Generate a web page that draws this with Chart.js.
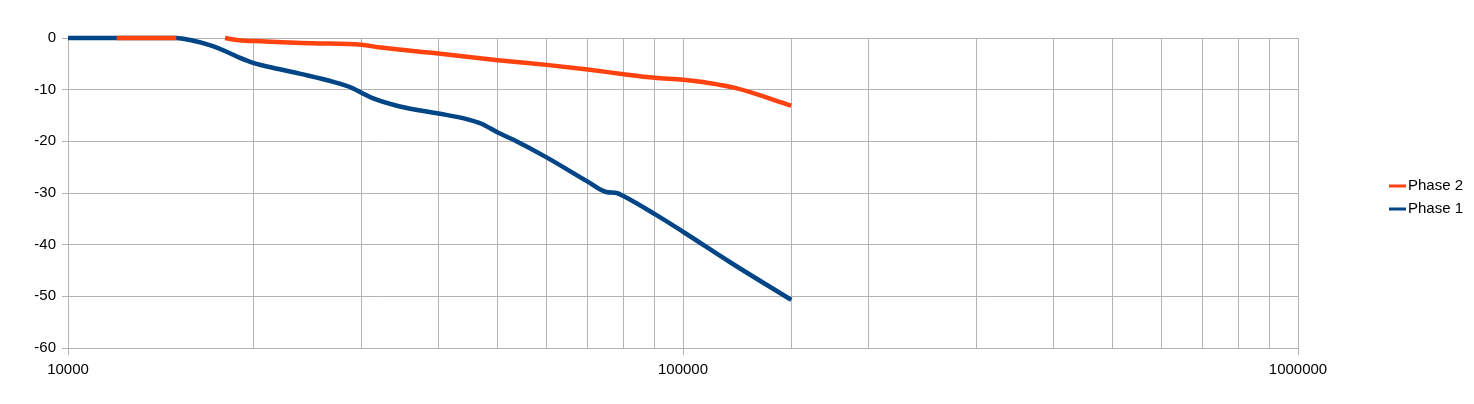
<!DOCTYPE html>
<html>
<head>
<meta charset="utf-8">
<script src="https://cdn.jsdelivr.net/npm/chart.js@4/dist/chart.umd.min.js"></script>
<style>
  html, body { margin: 0; padding: 0; background: #fff; }
  #wrap { width: 1474px; height: 404px; }
</style>
</head>
<body>
<div id="wrap"><canvas id="chart"></canvas></div>
<script>
// frequency (Hz) and phase (degrees)
const phase1Freq = [10000, 11000, 12000, 13000, 14000, 15000, 15800, 17000, 18300, 19000, 20000, 22000, 24000, 27000, 29000, 30000, 31200, 34500, 40000, 44500, 47000, 50000, 53000, 60000, 70000, 75000, 78000, 80000, 90000, 100000, 120000, 150000]
const phase1Deg = [0, 0, 0, 0, 0, 0, -0.4, -1.4, -2.9, -3.8, -4.8, -6.0, -7.0, -8.5, -9.7, -10.6, -11.6, -13.2, -14.6, -15.7, -16.6, -18.3, -19.7, -23.1, -27.8, -29.8, -30.0, -30.6, -34.1, -37.5, -43.6, -50.7]

const phase2Freq = [12000, 13000, 14000, 15000, 16500, 18000, 18800, 20000, 25000, 30000, 32000, 40000, 50000, 60000, 70000, 80000, 90000, 100000, 110000, 122000, 150000]
const phase2Deg = [0, 0, 0, 0, null, 0, -0.4, -0.6, -1.0, -1.3, -1.8, -3.0, -4.3, -5.2, -6.1, -7.0, -7.7, -8.1, -8.7, -9.7, -13.1]

const yTicks = [0, -10, -20, -30, -40, -50, -60]

const toPoints = (xs, ys) => xs.map((x, i) => ({ x: x, y: ys[i] }))
const isPow10 = v => Math.abs(Math.log10(v) - Math.round(Math.log10(v))) < 1e-9

const FONT = { family: "'Liberation Sans', Arial, sans-serif", size: 15 }
const GRID = '#b3b3b3'

// legend drawn to the right, like the spreadsheet output
const sideLegend = {
  id: 'sideLegend',
  afterDraw(chart) {
    const ctx = chart.ctx
    ctx.save()
    ctx.font = FONT.size + 'px ' + FONT.family
    ctx.textBaseline = 'middle'
    chart.data.datasets.forEach((ds, i) => {
      const y = 186 + i * 23
      ctx.strokeStyle = ds.borderColor
      ctx.lineWidth = 3
      ctx.beginPath()
      ctx.moveTo(1389, y)
      ctx.lineTo(1406, y)
      ctx.stroke()
      ctx.fillStyle = '#000'
      ctx.fillText(ds.label, 1408, y)
    })
    ctx.restore()
  }
}

new Chart(document.getElementById('chart'), {
  type: 'line',
  data: {
    datasets: [{
      label: 'Phase 2',
      data: toPoints(phase2Freq, phase2Deg),
      borderColor: '#ff420e',
      backgroundColor: '#ff420e',
      borderWidth: 4.5,
      pointRadius: 0,
      cubicInterpolationMode: 'monotone',
      spanGaps: false,
      clip: false
    }, {
      label: 'Phase 1',
      data: toPoints(phase1Freq, phase1Deg),
      borderColor: '#004586',
      backgroundColor: '#004586',
      borderWidth: 4.5,
      pointRadius: 0,
      cubicInterpolationMode: 'monotone',
      clip: false
    }]
  },
  options: {
    responsive: true,
    maintainAspectRatio: false,
    animation: false,
    layout: { padding: { left: 0, top: 38, right: 176, bottom: 26 } },
    plugins: {
      legend: { display: false },
      tooltip: { enabled: false }
    },
    scales: {
      x: {
        type: 'logarithmic',
        min: 10000,
        max: 1000000,
        afterFit: scale => { scale.height = 30 },
        grid: {
          color: GRID,
          tickLength: 7,
          tickColor: ctx => (ctx.tick && isPow10(ctx.tick.value)) ? GRID : 'rgba(0,0,0,0)'
        },
        border: { color: GRID },
        ticks: {
          autoSkip: false,
          maxRotation: 0,
          padding: 6,
          color: '#000',
          font: FONT,
          callback: v => isPow10(v) ? String(v) : ''
        }
      },
      y: {
        min: -60,
        max: 0,
        afterFit: scale => { scale.width = 68 },
        afterBuildTicks: scale => { scale.ticks = yTicks.map(v => ({ value: v })) },
        grid: { color: GRID, tickLength: 6 },
        border: { color: GRID },
        ticks: {
          padding: 6,
          color: '#000',
          font: FONT
        }
      }
    }
  },
  plugins: [sideLegend]
})
</script>
</body>
</html>
